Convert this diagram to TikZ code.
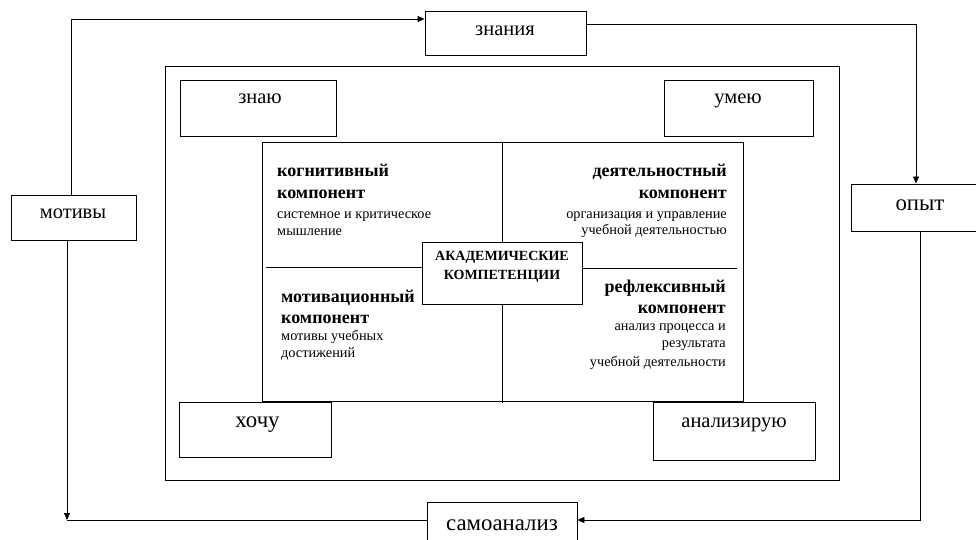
\documentclass[tikz,border=0pt]{standalone}
\usepackage{fontspec}
\setmainfont{Liberation Serif}
\usetikzlibrary{arrows.meta}
\begin{document}
\begin{tikzpicture}[x=1pt,y=-1pt,
  box/.style={draw, line width=0.9pt, fill=white, inner sep=0pt},
  link/.style={line width=0.8pt},
  arr/.style={link, -{Triangle[length=7pt,width=6pt]}},
  lbl/.style={font=\fontsize{20.5}{24}\selectfont, anchor=base, inner sep=0pt},
  biglbl/.style={font=\fontsize{22.8}{26}\selectfont, anchor=base, inner sep=0pt},
  head/.style={font=\fontsize{18}{21}\selectfont\bfseries, inner sep=0pt},
  desc/.style={font=\fontsize{14.3}{17}\selectfont, inner sep=0pt},
  core/.style={font=\fontsize{14}{17}\selectfont\bfseries, anchor=base, inner sep=0pt}]
\useasboundingbox (0,0) rectangle (976,540);

% outer frame and corner boxes
\draw[line width=0.9pt] (165,66) rectangle (839,480);
\node[box, minimum width=156pt, minimum height=56pt] (znayu) at (258,108) {};
\node[box, minimum width=149pt, minimum height=56pt] (umeyu) at (738.5,108) {};
\node[box, minimum width=152pt, minimum height=55pt] (hochu) at (255,429.5) {};
\node[box, minimum width=162pt, minimum height=58pt] (analiz) at (734,431) {};

% central square split into four components
\node[draw, line width=0.9pt, inner sep=0pt, minimum width=481pt, minimum height=259pt] (corebox) at (502.5,271.5) {};
\draw[link] (266,267) -- (422,267);
\draw[link] (582,268) -- (737,268);
\node[box, minimum width=160pt, minimum height=62pt] (akad) at (502,273) {};
\draw[link] (corebox.north -| akad.north) -- (akad.north);
\draw[link] (akad.south) -- ([yshift=-2pt]corebox.south -| akad.south);

% outer cycle boxes
\node[box, minimum width=161pt, minimum height=44pt] (znaniya) at (505.5,33) {};
\node[box, minimum width=125pt, minimum height=45pt] (motivy) at (73.5,217.5) {};
\node[box, minimum width=125pt, minimum height=47pt] (opyt) at (913.5,207.5) {};
\node[box, minimum width=150pt, minimum height=40pt] (samo) at (502,522) {};
\coordinate (corner) at (67,520);

% cycle connectors
\draw[arr] ([xshift=-2.5pt]motivy.north) |- ([yshift=14pt]znaniya.west);
\draw[arr] ([yshift=9pt]znaniya.east) -| ([xshift=2.5pt]opyt.north);
\draw[arr] ([xshift=6.5pt]opyt.south) |- ([yshift=2pt]samo.east);
\draw[link] ([yshift=2pt]samo.west) -- (corner);
\draw[arr] ([xshift=-6.5pt]motivy.south) -- (corner);

% labels
\node[lbl] (tznaniya) at (505,36) {знания};
\node[lbl] (tmotivy) at (73,218) {мотивы};
\node[biglbl] (topyt) at (920,210) {опыт};
\node[biglbl] (tsamo) at (502,530) {самоанализ};
\node[lbl] (tznayu) at (260,104) {знаю};
\node[lbl] (tumeyu) at (738,104) {умею};
\node[biglbl] (thochu) at (257.5,427) {хочу};
\node[lbl] (tanaliz) at (734,427) {анализирую};

% cognitive component
\node[head, anchor=base west] (k1) at (277,177) {когнитивный};
\node[head, anchor=base west] (k2) at (277,198) {компонент};
\node[desc, anchor=base west] (k3) at (277,218) {системное и критическое};
\node[desc, anchor=base west] (k4) at (277,235) {мышление};

% activity component
\node[head, anchor=base east] (d1) at (727,177) {деятельностный};
\node[head, anchor=base east] (d2) at (727,198) {компонент};
\node[desc, anchor=base east] (d3) at (727,218) {организация и управление};
\node[desc, anchor=base east] (d4) at (727,234) {учебной деятельностью};

% motivational component
\node[head, anchor=base west] (m1) at (281,302) {мотивационный};
\node[head, anchor=base west] (m2) at (281,323) {компонент};
\node[desc, anchor=base west] (m3) at (281,340) {мотивы учебных};
\node[desc, anchor=base west] (m4) at (281,357) {достижений};

% reflexive component
\node[head, anchor=base east] (r1) at (726,292) {рефлексивный};
\node[head, anchor=base east] (r2) at (726,313) {компонент};
\node[desc, anchor=base east] (r3) at (726,330) {анализ процесса и};
\node[desc, anchor=base east] (r4) at (726,347) {результата};
\node[desc, anchor=base east] (r5) at (726,366) {учебной деятельности};

% centre
\node[core] (a1) at (502,260) {АКАДЕМИЧЕСКИЕ};
\node[core] (a2) at (502,279) {КОМПЕТЕНЦИИ};
\end{tikzpicture}
\end{document}
